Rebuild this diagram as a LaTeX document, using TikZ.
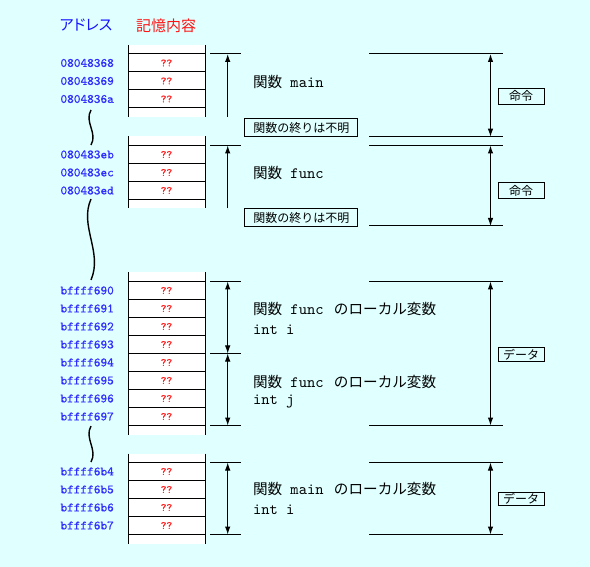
\documentclass[tikz,border=0pt]{standalone}
\usepackage{fontspec}
\newfontfamily\jp{Noto Sans CJK JP}
\newfontfamily\jpp[RawFeature=+palt]{Noto Sans CJK JP}
\newfontfamily\mono{lmmono10-regular.otf}
\newfontfamily\monob[FakeBold=0.7]{lmmono10-regular.otf}
\usetikzlibrary{arrows.meta}
\definecolor{bg}{RGB}{224,255,255}
\definecolor{addr}{RGB}{45,45,255}
\definecolor{qq}{RGB}{255,30,30}
\definecolor{hblue}{RGB}{20,20,255}
\definecolor{hred}{RGB}{255,20,20}

\newcommand\memblk[4]{%
  \pgfmathsetmacro\mbtop{#2-9}%
  \pgfmathsetmacro\mbbot{#2+18*#3+9}%
  \fill[white] (128,\mbtop) rectangle (205,\mbbot);
  \draw (128,\mbtop) -- (128,\mbbot) (205,\mbtop) -- (205,\mbbot);
  \foreach \k in {0,...,#3} \draw (128,#2+18*\k) -- (205,#2+18*\k);
  \foreach \a [count=\k from 0] in {#4} {
    \node[addrtxt] (#1a\k) at (60,#2+18*\k+9) {\a};
    \node[qtxt] (#1q\k) at (166.5,#2+18*\k+9) {??};
  }
}

\begin{document}
\begin{tikzpicture}[x=1pt,y=-1pt,line width=1pt,
  tip/.tip={Latex[length=8pt,width=5.5pt]},
  dimline/.style={tip-tip},
  upline/.style={-tip},
  wave/.style={line width=1.4pt},
  addrtxt/.style={text=addr,font=\monob\fontsize{12.7pt}{14pt}\selectfont,anchor=west,inner sep=0pt},
  qtxt/.style={text=qq,font=\monob\fontsize{11pt}{12pt}\selectfont,inner sep=0pt},
  lblj/.style={anchor=west,inner sep=0pt,font=\fontsize{14.6pt}{17pt}\selectfont},
  lblc/.style={anchor=west,inner sep=0pt,font=\mono\fontsize{15.8pt}{17pt}\selectfont},
  notebox/.style={draw,inner sep=0pt,minimum width=112.7pt,minimum height=18.4pt,font=\jp\fontsize{12pt}{14pt}\selectfont},
  kindbox/.style={draw,inner sep=0pt,minimum width=45.7pt,font=\jp\fontsize{12pt}{14pt}\selectfont},
]
\fill[bg] (0,0) rectangle (590,567);
\useasboundingbox (0,0) rectangle (590,567);

% headers
\node[text=hblue,font=\jpp\fontsize{15pt}{17pt}\selectfont,inner sep=0pt] (hA) at (86,25.5) {アドレス};
\node[text=hred,font=\jp\fontsize{15pt}{17pt}\selectfont,inner sep=0pt] (hB) at (166,25.5) {記憶内容};

% memory blocks
\memblk{b1}{54}{3}{08048368,08048369,0804836a}
\memblk{b2}{145.5}{3}{080483eb,080483ec,080483ed}
\memblk{b3}{281.5}{8}{bffff690,bffff691,bffff692,bffff693,bffff694,bffff695,bffff696,bffff697}
\memblk{b4}{462.5}{4}{bffff6b4,bffff6b5,bffff6b6,bffff6b7}

% break waves
\draw[wave] (91,110) .. controls (84,122) and (98,133) .. (91,145);
\draw[wave] (91,199) .. controls (79,226) and (103,252) .. (91,280);
\draw[wave] (91,426) .. controls (84,438) and (98,450) .. (91,462);

% left dimension marks
\foreach \n/\y in {l1/54,l2/145.5,l3/281.5,l4/353.5,l5/425.5,l6/462.5,l7/534.5}{
  \coordinate (\n w) at (210,\y);
  \coordinate (\n e) at (241,\y);
  \coordinate (\n m) at (227.7,\y);
  \draw (\n w) -- (\n e);
}
\coordinate (l1b) at (227.7,117);
\coordinate (l2b) at (227.7,208.5);
\draw[upline] (l1b) -- (l1m);
\draw[upline] (l2b) -- (l2m);
\draw[dimline] (l3m) -- (l4m);
\draw[dimline] (l4m) -- (l5m);
\draw[dimline] (l6m) -- (l7m);

% right dimension marks
\foreach \n/\y in {r1/54,r2/136.7,r3/145.5,r4/226,r5/281.5,r6/425.5,r7/462.5,r8/534.5}{
  \coordinate (\n w) at (369,\y);
  \coordinate (\n e) at (503,\y);
  \coordinate (\n m) at (490.5,\y);
  \draw (\n w) -- (\n e);
}
\draw[dimline] (r1m) -- (r2m);
\draw[dimline] (r3m) -- (r4m);
\draw[dimline] (r5m) -- (r6m);
\draw[dimline] (r7m) -- (r8m);

% kind boxes
\node[kindbox,minimum height=16pt] (k1) at (521.2,96.3) {命令};
\node[kindbox,minimum height=16pt] (k2) at (521.2,190.8) {命令};
\node[kindbox,minimum height=13.5pt] (k3) at (521.2,354.7) {データ};
\node[kindbox,minimum height=13.5pt] (k4) at (521.2,499.2) {データ};

% note boxes
\node[notebox] (n1) at (301.3,127.5) {関数の終りは不明};
\node[notebox] (n2) at (301.3,217.8) {関数の終りは不明};

% labels
\node[lblj] (t1) at (252.5,82.3) {{\jp 関数}{\mono\fontsize{15.8pt}{17pt}\selectfont\ main}};
\node[lblj] (t2) at (252.5,173.3) {{\jp 関数}{\mono\fontsize{15.8pt}{17pt}\selectfont\ func}};
\node[lblj] (t3) at (252.5,309) {{\jp 関数}{\mono\fontsize{15.8pt}{17pt}\selectfont\ func\ }\hspace{2pt}{\jp のローカル変数}};
\node[lblc] (t3b) at (252.5,329.3) {int i};
\node[lblj] (t4) at (252.5,381.7) {{\jp 関数}{\mono\fontsize{15.8pt}{17pt}\selectfont\ func\ }\hspace{2pt}{\jp のローカル変数}};
\node[lblc] (t4b) at (252.5,401.7) {int j};
\node[lblj] (t5) at (252.5,489.3) {{\jp 関数}{\mono\fontsize{15.8pt}{17pt}\selectfont\ main\ }\hspace{2pt}{\jp のローカル変数}};
\node[lblc] (t5b) at (252.5,510) {int i};
\end{tikzpicture}
\end{document}
